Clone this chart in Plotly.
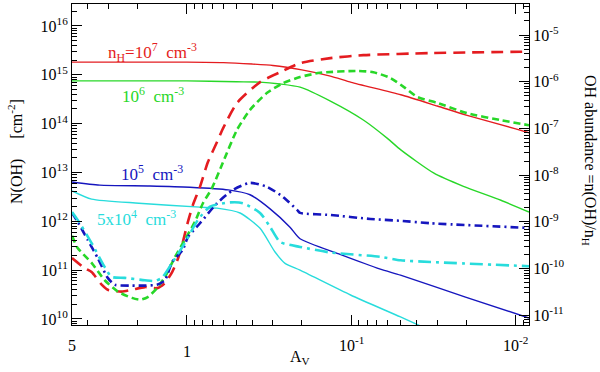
import numpy as np
import plotly.graph_objects as go

# solid lines: column density N(OH) [cm^-2] (left axis)
av_n7 = [5.0, 2.0, 1.0, 0.6, 0.4, 0.3, 0.2, 0.134, 0.1, 0.05, 0.03, 0.02, 0.01, 0.0083]
N_n7 = [1.82e15, 1.82e15, 1.82e15, 1.78e15, 1.66e15, 1.55e15, 1.26e15, 9.4e14, 7.0e14,
        3.9e14, 2.3e14, 1.5e14, 7.8e13, 6.5e13]

av_n6 = [5.0, 1.0, 0.5, 0.36, 0.271, 0.205, 0.134, 0.0845, 0.0603, 0.05, 0.0316, 0.0208,
         0.0123, 0.0083]
N_n6 = [7.5e14, 7.5e14, 7.2e14, 7.1e14, 6.5e14, 5.6e14, 2.9e14, 1.19e14, 5.0e13, 2.9e13,
        9.8e12, 5.2e12, 2.7e12, 1.55e12]

av_n5 = [5.0, 3.39, 1.68, 0.96, 0.56, 0.413, 0.312, 0.236, 0.205, 0.117, 0.0666, 0.0502,
         0.0202, 0.0083]
N_n5 = [6.4e12, 5.5e12, 5.3e12, 5.0e12, 4.4e12, 3.5e12, 1.8e12, 7.6e11, 4.4e11, 2.1e11,
        1.05e11, 7.9e10, 2.8e10, 1.05e10]

av_n4 = [5.0, 3.8, 1.96, 0.833, 0.656, 0.475, 0.359, 0.291, 0.253, 0.205, 0.101, 0.0502,
         0.0287]
N_n4 = [4.2e12, 2.85e12, 2.35e12, 1.95e12, 1.86e12, 1.48e12, 7.2e11, 2.35e11, 1.38e11,
        1.0e11, 3.1e10, 1.1e10, 4.7e9]

# dashed lines: OH abundance n(OH)/n_H (right axis)
av_x7 = [5.0, 4.19, 3.8, 3.3, 3.03, 2.49, 2.16, 1.8, 1.52, 1.36, 1.23, 1.13, 1.06, 0.986,
         0.919, 0.833, 0.745, 0.656, 0.603, 0.496, 0.359, 0.271, 0.205, 0.134, 0.0845,
         0.033, 0.0083]
X_n7 = [1.68e-10, 1.02e-10, 8.4e-11, 4.5e-11, 3.5e-11, 3.2e-11, 3.5e-11, 4.0e-11, 3.8e-11,
        4.9e-11, 8.4e-11, 1.68e-10, 3.6e-10, 1.0e-9, 2.3e-9, 5.6e-9, 1.9e-8, 5.1e-8, 1.0e-7,
        3.5e-7, 9.8e-7, 1.6e-6, 2.5e-6, 3.2e-6, 3.7e-6, 4.1e-6, 4.4e-6]

av_x6 = [5.0, 4.62, 3.8, 3.16, 2.63, 2.16, 1.93, 1.73, 1.52, 1.36, 1.18, 1.03, 0.894, 0.799,
         0.705, 0.612, 0.496, 0.413, 0.325, 0.26, 0.205, 0.155, 0.0919, 0.0734, 0.0578,
         0.0469, 0.0396, 0.0299, 0.0196, 0.0123, 0.0083]
X_n6 = [5.0e-10, 2.75e-10, 1.32e-10, 5.6e-11, 3.2e-11, 2.35e-11, 2.15e-11, 2.45e-11, 3.8e-11,
        6.6e-11, 1.78e-10, 4.1e-10, 1.0e-9, 2.5e-9, 5.2e-9, 1.66e-8, 9.3e-8, 2.5e-7, 5.8e-7,
        9.3e-7, 1.26e-6, 1.55e-6, 1.7e-6, 1.6e-6, 1.2e-6, 7.3e-7, 4.7e-7, 3.5e-7, 2.1e-7,
        1.5e-7, 1.17e-7]

av_x5 = [5.0, 4.62, 4.01, 3.49, 3.03, 2.75, 2.16, 1.8, 1.52, 1.36, 1.23, 1.06, 0.986, 0.833,
         0.656, 0.525, 0.413, 0.325, 0.26, 0.213, 0.205, 0.134, 0.0766, 0.0502, 0.033, 0.0083]
X_n5 = [1.55e-9, 1.0e-9, 4.1e-10, 1.68e-10, 6.3e-11, 4.5e-11, 4.3e-11, 4.3e-11, 4.5e-11,
        5.6e-11, 1.38e-10, 2.5e-10, 4.7e-10, 9.3e-10, 2.5e-9, 4.8e-9, 6.8e-9, 5.6e-9, 3.4e-9,
        1.78e-9, 1.55e-9, 1.4e-9, 1.15e-9, 1.05e-9, 9.3e-10, 7.4e-10]

av_x4 = [5.0, 4.62, 3.8, 3.16, 2.87, 2.39, 1.8, 1.57, 1.42, 1.23, 1.03, 0.857, 0.724, 0.547,
         0.456, 0.359, 0.312, 0.271, 0.205, 0.134, 0.0666, 0.0502, 0.033, 0.0083]
X_n4 = [1.62e-9, 1.1e-9, 3.5e-10, 1.07e-10, 6.6e-11, 6.3e-11, 5.6e-11, 5.4e-11, 6.3e-11,
        1.32e-10, 3.5e-10, 1.1e-9, 2.1e-9, 2.6e-9, 2.5e-9, 1.55e-9, 7.8e-10, 3.7e-10, 2.9e-10,
        2.2e-10, 1.78e-10, 1.5e-10, 1.38e-10, 1.12e-10]

# tick labels
x_major = [5, 1, 0.1, 0.01]
x_labels = ["5", "1", "10<sup>-1</sup>", "10<sup>-2</sup>"]
yl_labels = ["10<sup>%d</sup>" % e for e in range(10, 17)]
yr_labels = ["10<sup>%d</sup>" % e for e in range(-11, -4)]

RED = "rgb(228,28,32)"
GREEN = "rgb(40,215,40)"
BLUE = "rgb(22,22,190)"
CYAN = "rgb(40,220,220)"
FONT = "Liberation Serif"
NB = "\u00a0"

# plot area in page pixels, used to place the free text
L, R, T, B = 72, 529, 4, 325


def px(x):
    return (x - L) / (R - L)


def py(y):
    return (B - y) / (B - T)


fig = go.Figure()

for av, n, c in [(av_n7, N_n7, RED), (av_n6, N_n6, GREEN), (av_n5, N_n5, BLUE), (av_n4, N_n4, CYAN)]:
    fig.add_trace(go.Scatter(x=av, y=n, mode="lines",
                             line=dict(color=c, width=1.4, shape="spline", smoothing=0.6)))

dashed = [(av_x7, X_n7, RED, "12px,7px"), (av_x6, X_n6, GREEN, "7px,4px"),
          (av_x5, X_n5, BLUE, "8px,4px,2px,4px"), (av_x4, X_n4, CYAN, "13px,5px,3px,5px")]
for av, x, c, d in dashed:
    fig.add_trace(go.Scatter(x=av, y=x, yaxis="y2", mode="lines",
                             line=dict(color=c, width=2.6, dash=d, shape="spline", smoothing=0.6)))

x_minor = [2, 3, 4] + [k / 10 for k in range(2, 10)] + [k / 100 for k in range(2, 10)] + [0.009]
yl_major = [10.0 ** e for e in range(10, 17)]
yl_minor = [k * 10.0 ** e for e in range(9, 17) for k in range(2, 10)]
yr_major = [10.0 ** e for e in range(-11, -4)]
yr_minor = [k * 10.0 ** e for e in range(-12, -4) for k in range(2, 10)]

axcommon = dict(showline=True, linecolor="black", linewidth=1, ticks="inside", tickcolor="black",
                ticklen=10, showgrid=False, zeroline=False, automargin=False,
                tickfont=dict(family=FONT, size=16, color="black"))
minor = dict(ticks="inside", ticklen=5, tickcolor="black")

fig.update_layout(
    width=600, height=372,
    margin=dict(l=L, r=600 - R, t=T, b=372 - B),
    plot_bgcolor="white", paper_bgcolor="white",
    showlegend=False,
    font=dict(family=FONT, color="black"),
    xaxis=dict(type="log", range=[np.log10(5), np.log10(0.0083)], tickvals=x_major,
               showticklabels=False, mirror="ticks", minor=dict(tickvals=x_minor, **minor), **axcommon),
    yaxis=dict(type="log", range=[9.877, 16.45], tickvals=yl_major, ticktext=yl_labels,
               minor=dict(tickvals=yl_minor, **minor), **axcommon),
    yaxis2=dict(type="log", range=[-11.21, -4.336], overlaying="y", side="right", tickvals=yr_major,
                ticktext=yr_labels, minor=dict(tickvals=yr_minor, **minor), **axcommon),
)

center = dict(xanchor="center", yanchor="middle", showarrow=False)

# x tick labels (PGPLOT-style staggered baselines)
for v, t, yy in zip(x_major, x_labels, [346, 352, 344, 344]):
    fig.add_annotation(text=t, x=np.log10(v), y=py(yy), xref="x", yref="paper",
                       font=dict(family=FONT, size=16), **center)

labels = [("n<sub>H</sub>=10<sup>7</sup>" + NB * 2 + "cm<sup>-3</sup>", RED, 152, 52),
          ("10<sup>6</sup>" + NB * 2 + "cm<sup>-3</sup>", GREEN, 153, 95),
          ("10<sup>5</sup>" + NB * 2 + "cm<sup>-3</sup>", BLUE, 152, 173),
          ("5x10<sup>4</sup>" + NB * 2 + "cm<sup>-3</sup>", CYAN, 136, 218)]
for txt, c, x0, y0 in labels:
    fig.add_annotation(text=txt, x=px(x0), y=py(y0), xref="paper", yref="paper",
                       font=dict(family=FONT, size=17, color=c), **center)

# axis titles
fig.add_annotation(text="N(OH)" + NB * 5 + "[cm<sup>-2</sup>]", x=px(15), y=py(152), xref="paper",
                   yref="paper", textangle=-90, font=dict(family=FONT, size=16), **center)
fig.add_annotation(text="OH abundance =n(OH)/n<sub>H</sub>", x=px(590), y=py(160), xref="paper",
                   yref="paper", textangle=90, font=dict(family=FONT, size=16), **center)
fig.add_annotation(text="A<sub>V</sub>", x=px(300), y=py(358), xref="paper", yref="paper",
                   font=dict(family=FONT, size=16), **center)

# drop the default 8px page margin so the figure fills the window
fig.write_html("out.html", config={"displayModeBar": False},
               post_script="document.body.style.margin='0px';")
